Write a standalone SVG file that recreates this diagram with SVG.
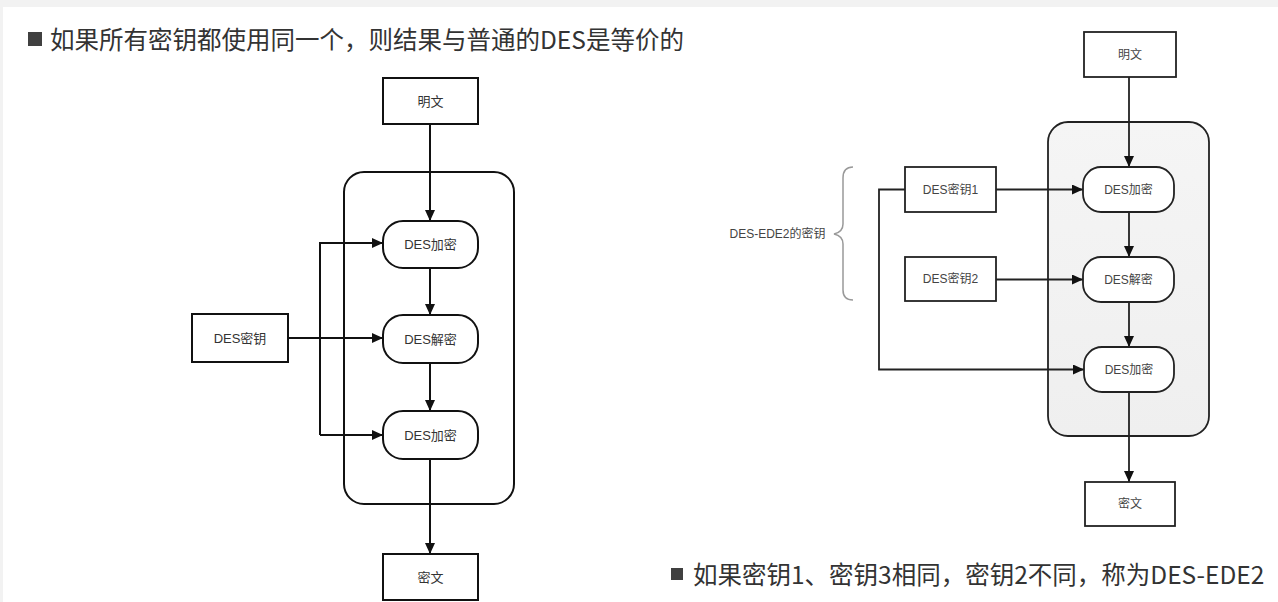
<svg xmlns="http://www.w3.org/2000/svg" width="1278" height="602" viewBox="0 0 1278 602">
<style>
  .box{fill:#fff;stroke:#111;stroke-width:2}
  .rbox{fill:#fff;stroke:#222;stroke-width:1.8}
  .lbl{font-family:"Liberation Sans","Noto Sans CJK SC",sans-serif;font-size:13px;fill:#333;text-anchor:middle;dominant-baseline:central}
  .rlbl{font-family:"Liberation Sans","Noto Sans CJK SC",sans-serif;font-size:12px;fill:#444;text-anchor:middle;dominant-baseline:central}
  .cap{font-family:"Noto Sans CJK SC",sans-serif;font-size:24.5px;fill:#333}
  .ln{fill:none;stroke:#111;stroke-width:2}
  .rln{fill:none;stroke:#222;stroke-width:1.8}
</style>
<defs>
  <marker id="ah" markerUnits="userSpaceOnUse" markerWidth="12" markerHeight="10" refX="11" refY="5" orient="auto">
    <path d="M0,0 L11,5 L0,10 z" fill="#111"/>
  </marker>
  <linearGradient id="cg" x1="0" y1="0" x2="0" y2="1">
    <stop offset="0" stop-color="#f5f5f5"/>
    <stop offset="1" stop-color="#efefef"/>
  </linearGradient>
</defs>
<rect x="0" y="0" width="1278" height="602" fill="#fff"/>
<rect x="0" y="0" width="1278" height="7" fill="#f2f2f2"/>
<rect x="0" y="0" width="3" height="602" fill="#f2f2f2"/>

<g id="title">
  <rect x="28" y="32" width="14" height="14" fill="#404040"/>
  <text class="cap" x="50" y="49">如果所有密钥都使用同一个，则结果与普通的DES是等价的</text>
</g>
<g id="caption2">
  <rect x="671" y="568" width="12" height="12" fill="#404040"/>
  <text class="cap" x="693" y="584">如果密钥1、密钥3相同，密钥2不同，称为DES-EDE2</text>
</g>

<!-- Left diagram -->
<g id="left-container"><rect x="344" y="172" width="170" height="332" rx="20" fill="none" stroke="#111" stroke-width="2"/></g>
<g id="left-connectors">
  <path class="ln" d="M430,124 V221" marker-end="url(#ah)"/>
  <path class="ln" d="M430,268 V315" marker-end="url(#ah)"/>
  <path class="ln" d="M430,363 V411" marker-end="url(#ah)"/>
  <path class="ln" d="M430,459 V554" marker-end="url(#ah)"/>
  <path class="ln" d="M288,338 H383" marker-end="url(#ah)"/>
  <path class="ln" d="M320,435 V243 H383" marker-end="url(#ah)"/>
  <path class="ln" d="M320,435 H383" marker-end="url(#ah)"/>
</g>
<g id="l-plain"><rect class="box" x="383" y="78" width="95" height="46"/><text class="lbl" x="430.5" y="101">明文</text></g>
<g id="l-enc1"><rect class="box" x="383" y="221" width="95" height="47" rx="20"/><text class="lbl" x="430.5" y="244.5">DES加密</text></g>
<g id="l-dec"><rect class="box" x="383" y="315" width="95" height="48" rx="20"/><text class="lbl" x="430.5" y="339">DES解密</text></g>
<g id="l-enc2"><rect class="box" x="383" y="411" width="95" height="48" rx="20"/><text class="lbl" x="430.5" y="435">DES加密</text></g>
<g id="l-cipher"><rect class="box" x="383" y="554" width="95" height="46"/><text class="lbl" x="430.5" y="577">密文</text></g>
<g id="l-key"><rect class="box" x="192" y="314" width="96" height="48"/><text class="lbl" x="240" y="338">DES密钥</text></g>

<!-- Right diagram -->
<g id="right-container"><rect x="1048" y="122" width="161" height="314" rx="20" fill="url(#cg)" stroke="#222" stroke-width="1.8"/></g>
<g id="right-connectors">
  <path class="rln" d="M1129,77 V167" marker-end="url(#ah)"/>
  <path class="rln" d="M1129,212 V257" marker-end="url(#ah)"/>
  <path class="rln" d="M1129,302 V347" marker-end="url(#ah)"/>
  <path class="rln" d="M1129,392 V482" marker-end="url(#ah)"/>
  <path class="rln" d="M996,189.5 H1083" marker-end="url(#ah)"/>
  <path class="rln" d="M996,279.5 H1083" marker-end="url(#ah)"/>
  <path class="rln" d="M905,189.5 H879 V369.5 H1084" marker-end="url(#ah)"/>
</g>
<g id="r-plain"><rect class="rbox" x="1084" y="32" width="92" height="45"/><text class="rlbl" x="1130" y="54.5">明文</text></g>
<g id="r-enc1"><rect class="rbox" x="1083" y="167" width="91" height="45" rx="18"/><text class="rlbl" x="1128.5" y="189.5">DES加密</text></g>
<g id="r-dec"><rect class="rbox" x="1083" y="257" width="91" height="45" rx="18"/><text class="rlbl" x="1128.5" y="279.5">DES解密</text></g>
<g id="r-enc2"><rect class="rbox" x="1084" y="347" width="90" height="45" rx="18"/><text class="rlbl" x="1129" y="369.5">DES加密</text></g>
<g id="r-cipher"><rect class="rbox" x="1085" y="482" width="90" height="44"/><text class="rlbl" x="1130" y="504">密文</text></g>
<g id="r-key1"><rect class="rbox" x="905" y="167" width="91" height="45"/><text class="rlbl" x="950.5" y="189.5">DES密钥1</text></g>
<g id="r-key2"><rect class="rbox" x="905" y="257" width="91" height="44"/><text class="rlbl" x="950.5" y="279">DES密钥2</text></g>
<g id="r-brace">
  <path d="M853,167 Q843,167 843,178 V224 Q843,232 834,234 Q843,236 843,244 V290 Q843,300 853,300" fill="none" stroke="#999" stroke-width="1.5"/>
  <text class="rlbl" x="777.5" y="234">DES-EDE2的密钥</text>
</g>
</svg>
